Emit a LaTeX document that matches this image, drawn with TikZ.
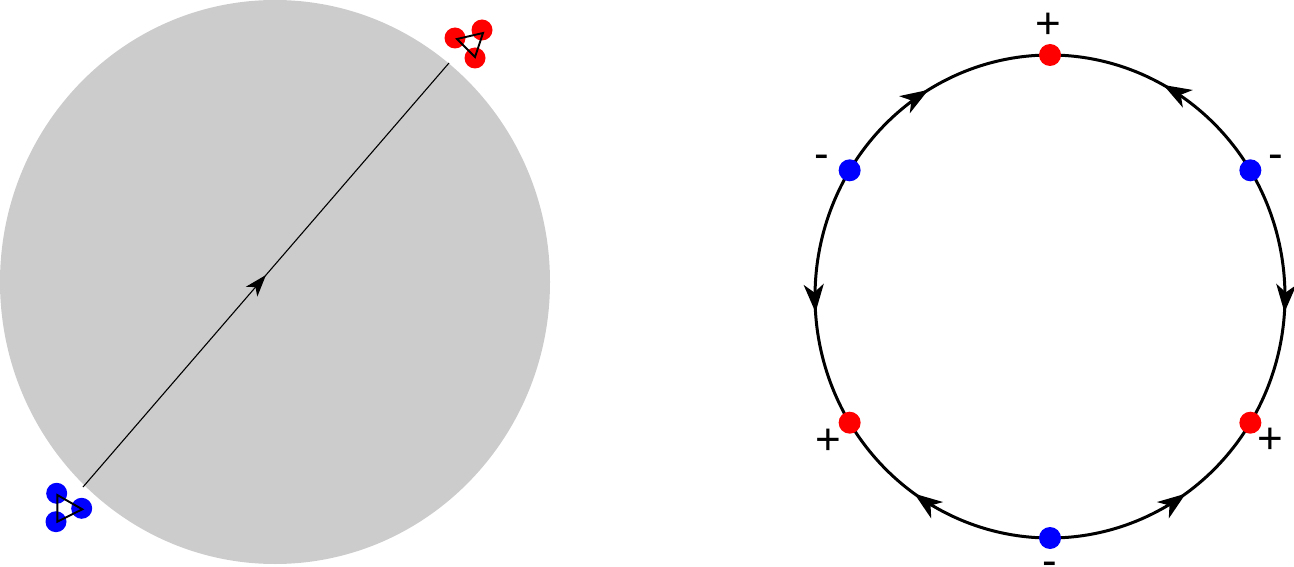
\documentclass[tikz,border=0pt]{standalone}
\usepackage{fontspec}
\setmainfont{Liberation Sans}
\usetikzlibrary{arrows.meta,decorations.markings,calc}
\begin{document}
\begin{tikzpicture}[x=1pt,y=1pt,
  reddot/.style={circle,fill=red,inner sep=0pt,minimum size=#1},
  reddot/.default=22pt,
  bluedot/.style={circle,fill=blue,inner sep=0pt,minimum size=#1},
  bluedot/.default=22pt,
  ring/.style={line width=3pt,postaction={decorate},
    decoration={markings,mark=at position #1 with {\arrow{Stealth[length=28pt,width=20pt,inset=8pt]}}}},
  ring/.default=0.5,
  tri/.style={line width=1.9pt,line join=miter},
  axisline/.style={line width=1.1pt,postaction={decorate},
    decoration={markings,mark=at position 0.5 with {\arrow{Stealth[length=22pt,width=15pt,inset=6pt]}}}},
  lab/.style={font=\fontsize{44}{46}\selectfont,inner sep=0pt}
]
\useasboundingbox (0,0) rectangle (1294,566);
% ---------- left picture ----------
\fill[black!20] (275,284) ellipse [x radius=275, y radius=282];
\coordinate (ls) at (83,79);
\coordinate (le) at (449,503);
\draw[axisline] (ls) -- (le);
% red cluster
\node[reddot=21pt] (ra) at (455,528) {};
\node[reddot=21pt] (rb) at (482,536) {};
\node[reddot=21pt] (rc) at (475,508) {};
\coordinate (ta) at (457,527);
\coordinate (tb) at (483,533);
\coordinate (tc) at (475,509);
\draw[tri] (ta) -- (tb) -- (tc) -- cycle;
% blue cluster
\node[bluedot=21pt] (ba) at (56.7,72.7) {};
\node[bluedot=21pt] (bb) at (56,44.3) {};
\node[bluedot=21pt] (bc) at (81.7,57.7) {};
\coordinate (ua) at (57.3,71);
\coordinate (ub) at (57.3,44.3);
\coordinate (uc) at (82.3,56.7);
\draw[tri] (ua) -- (ub) -- (uc) -- cycle;
% ---------- right picture ----------
\coordinate (c) at (1050,269.5);
\coordinate (p1) at ($(c)+(90:235pt and 241.5pt)$);
\coordinate (p2) at ($(c)+(148.5:235pt and 241.5pt)$);
\coordinate (p3) at ($(c)+(211.5:235pt and 241.5pt)$);
\coordinate (p4) at ($(c)+(270:235pt and 241.5pt)$);
\coordinate (p5) at ($(c)+(328.5:235pt and 241.5pt)$);
\coordinate (p6) at ($(c)+(31.5:235pt and 241.5pt)$);
\draw[ring=0.47] (p2) arc[start angle=148.5, end angle=90, x radius=235pt, y radius=241.5pt];
\draw[ring=0.51] (p6) arc[start angle=31.5, end angle=90, x radius=235pt, y radius=241.5pt];
\draw[ring=0.56] (p2) arc[start angle=148.5, end angle=211.5, x radius=235pt, y radius=241.5pt];
\draw[ring=0.56] (p6) arc[start angle=31.5, end angle=-31.5, x radius=235pt, y radius=241.5pt];
\draw[ring=0.6] (p4) arc[start angle=270, end angle=211.5, x radius=235pt, y radius=241.5pt];
\draw[ring=0.6] (p4) arc[start angle=270, end angle=328.5, x radius=235pt, y radius=241.5pt];
\node[reddot] (n1) at (p1) {};
\node[bluedot] (n2) at (p2) {};
\node[reddot] (n3) at (p3) {};
\node[bluedot] (n4) at (p4) {};
\node[reddot] (n5) at (p5) {};
\node[bluedot] (n6) at (p6) {};
\node[lab] (l1) at (1048,540) {+};
\node[lab] (l2) at (822,404) {-};
\node[lab] (l6) at (1276,404) {-};
\node[lab] (l3) at (828,124) {+};
\node[lab] (l5) at (1270,125) {+};
\node[lab] (l4) at (1050,-3) {-};
\end{tikzpicture}
\end{document}
